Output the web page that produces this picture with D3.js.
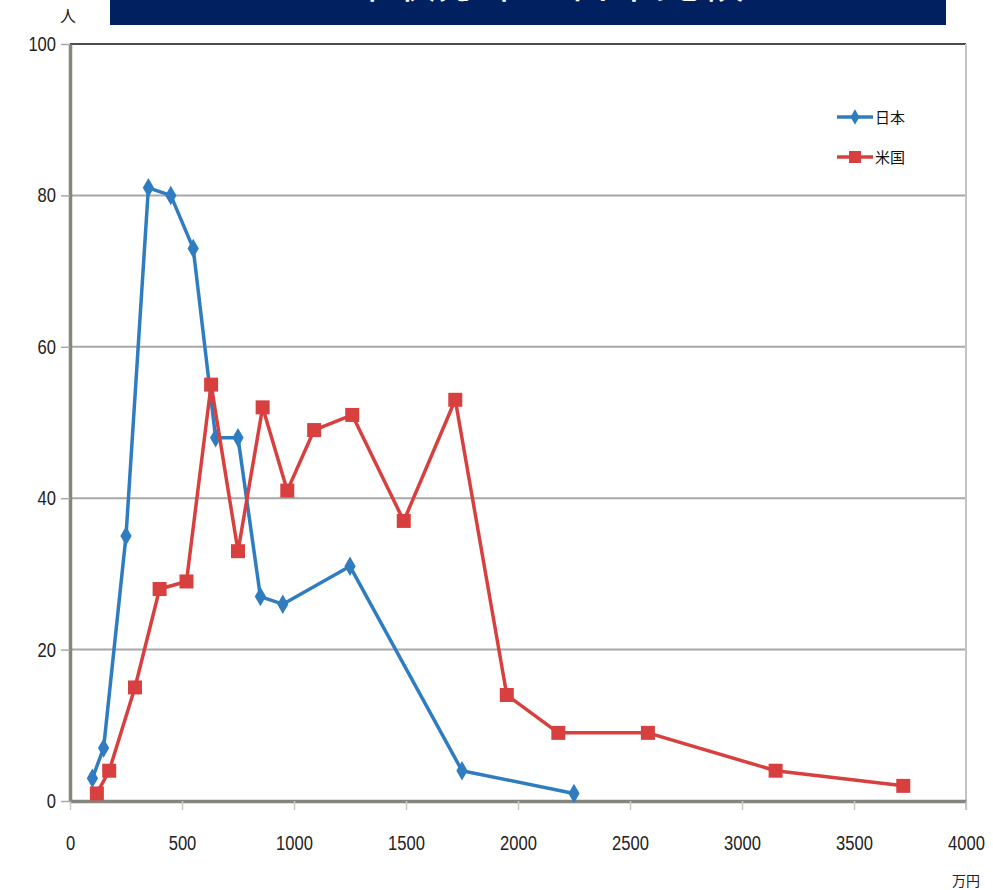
<!DOCTYPE html>
<html>
<head>
<meta charset="utf-8">
<script src="https://cdn.jsdelivr.net/npm/d3@7"></script>
<style>
  body { margin: 0; background: #fff; }
  svg { display: block; font-family: "Liberation Sans", sans-serif; }
</style>
</head>
<body>
<svg id="chart"></svg>
<script>
let width = 993
let height = 890

// 日本
let jpIncome = [100, 150, 250, 350, 450, 550, 650, 750, 850, 950, 1250, 1750, 2250]
let jpCount = [3, 7, 35, 81, 80, 73, 48, 48, 27, 26, 31, 4, 1]
// 米国
let usIncome = [120, 175, 290, 400, 520, 630, 750, 860, 970, 1090, 1260, 1490, 1720, 1950, 2180, 2580, 3150, 3720]
let usCount = [1, 4, 15, 28, 29, 55, 33, 52, 41, 49, 51, 37, 53, 14, 9, 9, 4, 2]

let xTicks = [0, 500, 1000, 1500, 2000, 2500, 3000, 3500, 4000]
let yTicks = [0, 20, 40, 60, 80, 100]
let seriesNames = ['日本', '米国']
let titleText = '年収分布の日米比較'

let blue = '#2f7dc0'
let red = '#d8403f'

let svg = d3.select('#chart').attr('width', width).attr('height', height)

let xScale = d3.scaleLinear().domain([0, 4000]).range([70, 966])
let yScale = d3.scaleLinear().domain([0, 100]).range([801, 44])

// title banner (cut off at top in the source too)
svg.append('rect').attr('x', 110).attr('y', 0).attr('width', 836).attr('height', 25).attr('fill', '#012060')
svg.append('text').text(titleText)
    .attr('x', 546).attr('y', -2)
    .attr('text-anchor', 'middle')
    .attr('font-family', 'Noto Sans CJK JP')
    .attr('font-size', 44)
    .attr('fill', '#fff')

// gridlines
svg.append('g').selectAll('line')
    .data(yTicks.filter(d => d > 0 && d < 100))
    .enter().append('line')
    .attr('x1', 70).attr('x2', 966)
    .attr('y1', d => yScale(d)).attr('y2', d => yScale(d))
    .attr('stroke', '#a8a8a8').attr('stroke-width', 2)

// frame: top black, right light gray
svg.append('line').attr('x1', 70).attr('x2', 966).attr('y1', 44).attr('y2', 44)
    .attr('stroke', '#111').attr('stroke-width', 1.5)
svg.append('line').attr('x1', 966).attr('x2', 966).attr('y1', 44).attr('y2', 810)
    .attr('stroke', '#c4c4c4').attr('stroke-width', 2)

let xAxis = d3.axisBottom(xScale).tickValues(xTicks).tickFormat(d3.format('d')).tickSize(9).tickPadding(26).tickSizeOuter(0)
let yAxis = d3.axisLeft(yScale).tickValues(yTicks).tickFormat(d3.format('d')).tickSize(9).tickPadding(5).tickSizeOuter(0)

// narrow digits like the source font
let narrow = sel => sel.attr('font-size', 20).attr('fill', '#222').attr('font-family', null)
    .attr('textLength', d => String(d).length * 9.2).attr('lengthAdjust', 'spacingAndGlyphs')

let gx = svg.append('g').attr('transform', 'translate(0,' + 801 + ')').call(xAxis)
gx.select('.domain').attr('stroke', '#858580').attr('stroke-width', 3.5)
gx.selectAll('.tick line').attr('stroke', '#c8c8c8').attr('stroke-width', 1.5)
gx.selectAll('.tick text').call(narrow)

let gy = svg.append('g').attr('transform', 'translate(70,0)').call(yAxis)
gy.select('.domain').attr('stroke', '#858580').attr('stroke-width', 3.5)
gy.selectAll('.tick line').attr('stroke', '#a8a8a8').attr('stroke-width', 1.5)
gy.selectAll('.tick text').call(narrow)

svg.append('text').text('人').attr('x', 60).attr('y', 22)
    .attr('font-family', 'Noto Sans CJK JP').attr('font-size', 16).attr('fill', '#222')
svg.append('text').text('万円').attr('x', 966).attr('y', 886).attr('text-anchor', 'middle')
    .attr('font-family', 'Noto Sans CJK JP').attr('font-size', 14).attr('fill', '#222')

let line = d3.line().x(d => xScale(d[0])).y(d => yScale(d[1]))
let jpData = jpIncome.map((v, i) => [v, jpCount[i]])
let usData = usIncome.map((v, i) => [v, usCount[i]])

let diamond = d3.symbol().type(d3.symbolDiamond).size(110)

svg.append('path').datum(jpData).attr('d', line)
    .attr('fill', 'none').attr('stroke', blue).attr('stroke-width', 3.5).attr('stroke-linejoin', 'round')
svg.append('g').selectAll('path').data(jpData).enter().append('path')
    .attr('d', diamond)
    .attr('transform', d => 'translate(' + xScale(d[0]) + ',' + yScale(d[1]) + ')')
    .attr('fill', blue)

svg.append('path').datum(usData).attr('d', line)
    .attr('fill', 'none').attr('stroke', red).attr('stroke-width', 3.5).attr('stroke-linejoin', 'round')
svg.append('g').selectAll('rect').data(usData).enter().append('rect')
    .attr('x', d => xScale(d[0]) - 7).attr('y', d => yScale(d[1]) - 7)
    .attr('width', 14).attr('height', 14)
    .attr('fill', red)

// legend
let legend = svg.append('g').attr('transform', 'translate(837,117)')
seriesNames.forEach((name, i) => {
    let g = legend.append('g').attr('transform', 'translate(0,' + (i * 40) + ')')
    let c = i == 0 ? blue : red
    g.append('line').attr('x1', 0).attr('x2', 36).attr('stroke', c).attr('stroke-width', 3.5)
    if (i == 0) {
        g.append('path').attr('d', d3.symbol().type(d3.symbolDiamond).size(70)).attr('transform', 'translate(18,0)').attr('fill', c)
    } else {
        g.append('rect').attr('x', 12).attr('y', -6).attr('width', 12).attr('height', 12).attr('fill', c)
    }
    g.append('text').text(name).attr('x', 38).attr('y', 6)
        .attr('font-family', 'Noto Sans CJK JP').attr('font-size', 15).attr('fill', '#111')
})
</script>
</body>
</html>
